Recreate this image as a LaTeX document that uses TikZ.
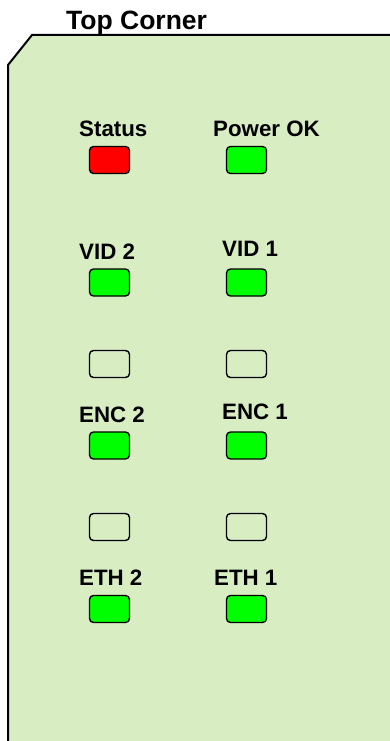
\documentclass[tikz,border=0pt]{standalone}
\usepackage{fontspec}
\setmainfont{Liberation Sans}
\definecolor{panel}{HTML}{D9EDC3}
\definecolor{ledgreen}{HTML}{00FF00}
\definecolor{ledred}{HTML}{FF0000}
\begin{document}
\begin{tikzpicture}[x=1pt,y=-1pt,
  led/.style={draw=black,line width=1.4pt,rounded corners=4pt,minimum width=40pt,minimum height=27pt,inner sep=0pt},
  lbl/.style={anchor=base west,inner sep=0pt,font=\fontsize{22.3}{24}\selectfont\bfseries},
  ttl/.style={anchor=base west,inner sep=0pt,font=\fontsize{26.5}{28}\selectfont\bfseries}]
\useasboundingbox (0,0) rectangle (390,741);
\fill[white] (0,0) rectangle (390,741);
\fill[panel] (8,742) -- (8,65) -- (32,35) -- (391,35) -- (391,742) -- cycle;
\draw[black,line width=2pt] (8,742) -- (8,65) -- (32,35) -- (391,35);
\node[ttl] (title) at (66,30) {Top Corner};
% row 1
\node[lbl] (lstatus) at (79,136) {Status};
\node[lbl] (lpower) at (213,136) {Power OK};
\node[led,fill=ledred] (status) at (109.5,160) {};
\node[led,fill=ledgreen] (power) at (246.5,160) {};
% row 2
\node[lbl] (lvid2) at (79,259) {VID 2};
\node[lbl] (lvid1) at (222,256) {VID 1};
\node[led,fill=ledgreen] (vid2) at (109.5,282.5) {};
\node[led,fill=ledgreen] (vid1) at (246.5,282.5) {};
% empty row
\node[led] (e1l) at (109.5,364) {};
\node[led] (e1r) at (246.5,364) {};
% row 3
\node[lbl] (lenc2) at (79,422) {ENC 2};
\node[lbl] (lenc1) at (222,419) {ENC 1};
\node[led,fill=ledgreen] (enc2) at (109.5,445.5) {};
\node[led,fill=ledgreen] (enc1) at (246.5,445.5) {};
% empty row
\node[led] (e2l) at (109.5,527) {};
\node[led] (e2r) at (246.5,527) {};
% row 4
\node[lbl] (leth2) at (79,585) {ETH 2};
\node[lbl] (leth1) at (214,585) {ETH 1};
\node[led,fill=ledgreen] (eth2) at (109.5,609) {};
\node[led,fill=ledgreen] (eth1) at (246.5,609) {};
\end{tikzpicture}
\end{document}
